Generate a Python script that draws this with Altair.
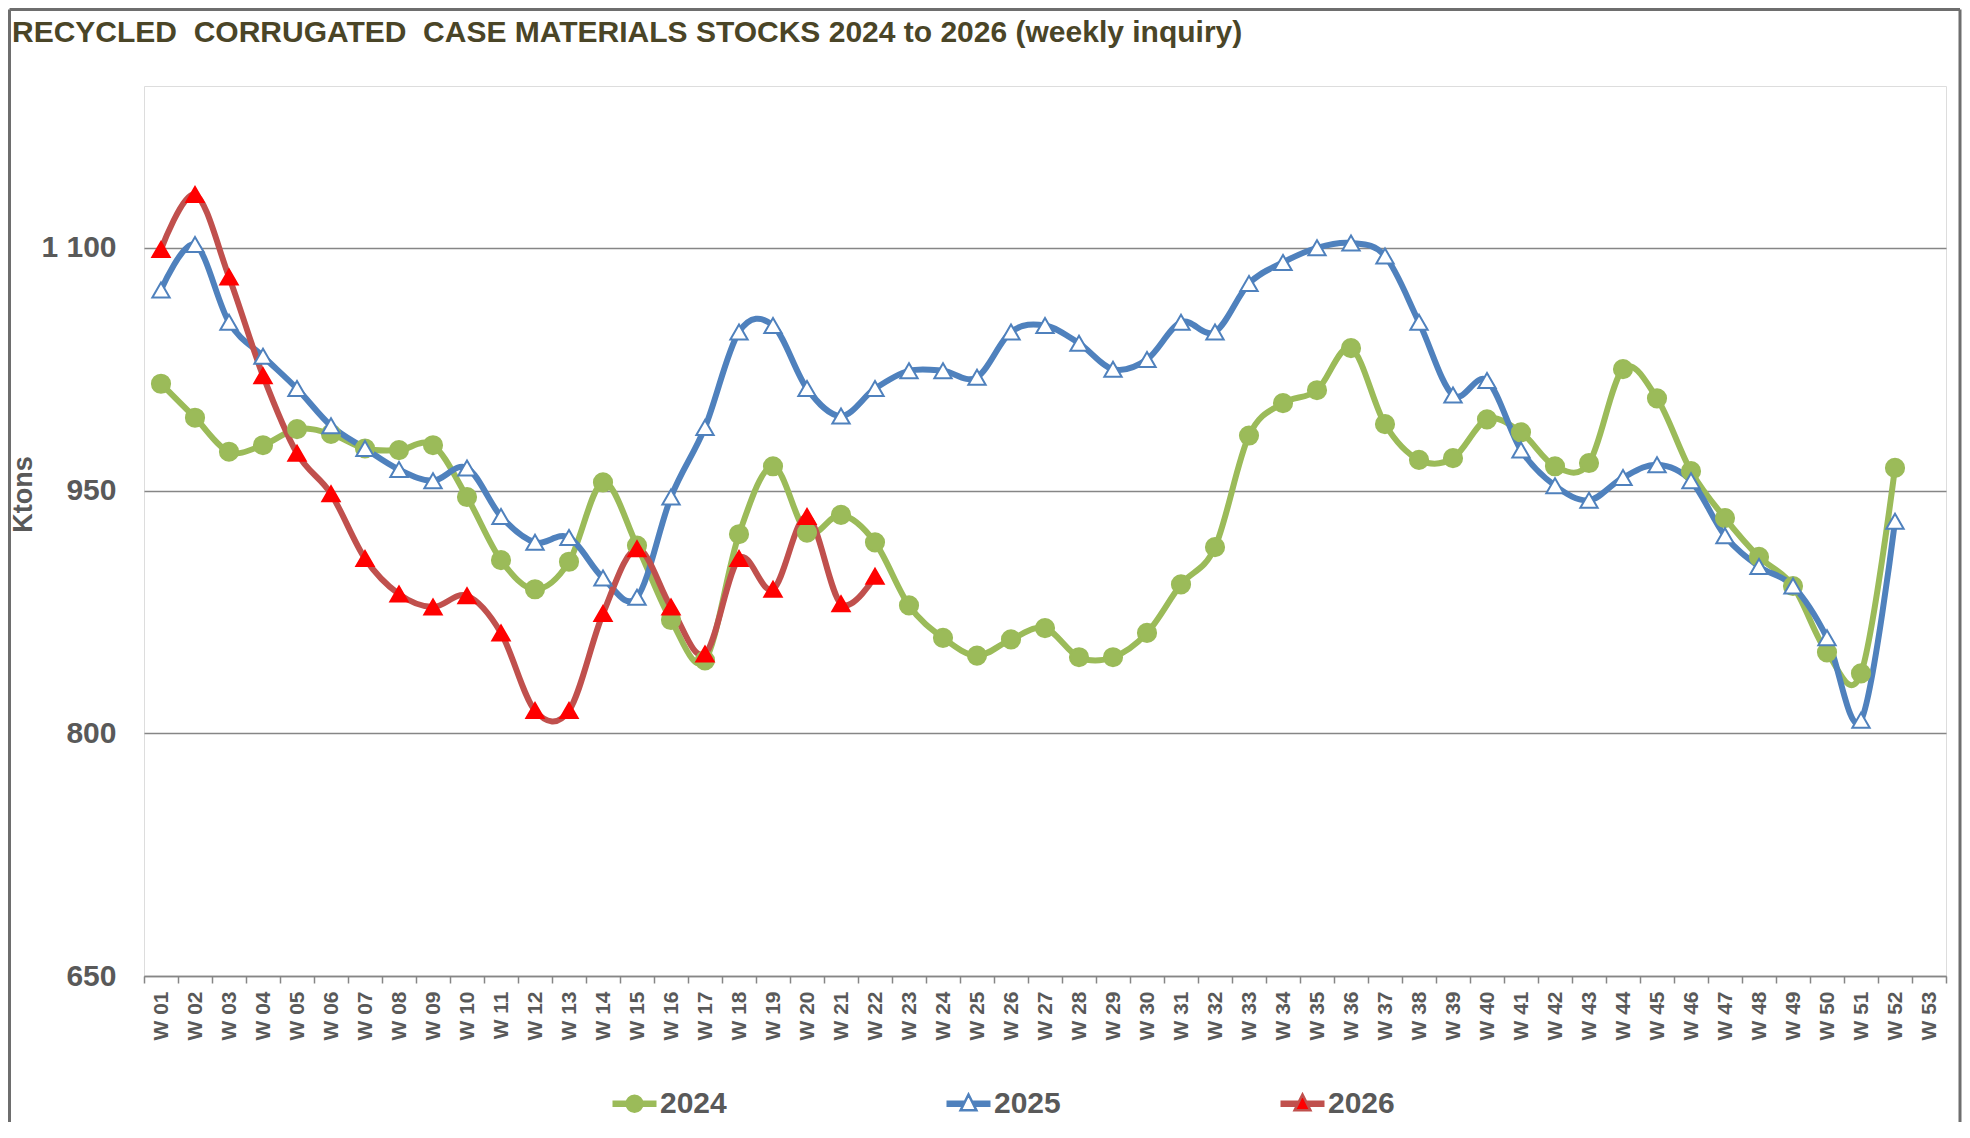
import altair as alt
import pandas as pd

weeks = [f"W {i:02d}" for i in range(1, 54)]
years = ["2024", "2025", "2026"]

v2024 = [1016, 995, 974, 978, 988, 985, 976, 975, 978, 946, 907, 889, 906, 955, 916, 870,
         845, 923, 965, 924, 935, 918, 879, 859, 848, 858, 865, 847, 847, 862, 892, 915,
         984, 1004, 1012, 1038, 991, 969, 970, 994, 986, 965, 967, 1025, 1007, 962, 933,
         909, 891, 850, 837, 964]
v2025 = [1074, 1102, 1054, 1033, 1013, 990, 976, 963, 956, 964, 934, 918, 921, 896, 884, 946,
         989, 1048, 1052, 1013, 996, 1013, 1024, 1024, 1020, 1048, 1052, 1041, 1025, 1031, 1054,
         1048, 1078, 1091, 1100, 1103, 1095, 1054, 1009, 1018, 975, 953, 944, 958, 966, 956,
         922, 903, 891, 859, 808, 931]
v2026 = [1099, 1133, 1082, 1021, 973, 948, 908, 886, 878, 885, 862, 814, 814, 874, 914, 878,
         849, 908, 889, 934, 880, 897]

line_colors = ["#9BBB59", "#4F81BD", "#C0504D"]
marker_fill = ["#9BBB59", "#FFFFFF", "#FF0000"]
marker_stroke = ["#9BBB59", "#4F81BD", "#FF0000"]
marker_shape = ["circle", "triangle-up", "triangle-up"]
marker_size = [330, 300, 300]
legend_fill = ["#9BBB59", "#FFFFFF", "#FF0000"]
NB = "\u00a0"
title_text = f"RECYCLED{NB} CORRUGATED{NB} CASE MATERIALS STOCKS 2024 to 2026 (weekly inquiry)"


def bar(xl_top, xl_mid, xl_bot):
    return (f"M-1,-0.09L{-xl_top},-0.09M{xl_top},-0.09L1,-0.09"
            f"M-1,0L{-xl_mid},0M{xl_mid},0L1,0"
            f"M-1,0.09L{-xl_bot},0.09M{xl_bot},0.09L1,0.09")


circle_path = bar(0.35, 0.36, 0.35) + "M-0.36,0A0.36,0.36,0,1,0,0.36,0A0.36,0.36,0,1,0,-0.36,0Z"
tri_path = bar(0.165, 0.21, 0.255) + "M0,-0.42L0.36,0.3L-0.36,0.3Z"
legend_paths = [circle_path, tri_path, tri_path]

rows = []
for yr, vals in zip(years, [v2024, v2025, v2026]):
    for w, v in zip(weeks, vals):
        rows.append({"week": w, "year": yr, "value": v})
df = pd.DataFrame(rows)

FONT = "Liberation Sans"
GRAY = "#595959"
S = 44
LEG_X, LEG_Y = 467, 994
COLPAD = 214

xscale = alt.Scale(type="band", domain=weeks, paddingInner=0, paddingOuter=0)
x_enc = alt.X(
    "week:N", scale=xscale,
    axis=alt.Axis(
        title=None, labelAngle=270, labelFont=FONT, labelFontSize=21, labelFontWeight="bold",
        labelColor=GRAY, labelPadding=8, tickBand="extent", tickSize=7, tickColor="#868686",
        tickWidth=1.5, domainColor="#868686", domainWidth=1.5, grid=False, labelOverlap=False,
    ),
)
y_enc = alt.Y(
    "value:Q",
    scale=alt.Scale(domain=[650, 1200], nice=False, zero=False),
    axis=alt.Axis(
        values=[650, 800, 950, 1100], title="Ktons", titleFont=FONT, titleFontSize=27,
        titleFontWeight="bold", titleColor=GRAY, titleAngle=270, titleX=-121, titleY=408,
        titleAlign="center", titleBaseline="middle",
        labelFont=FONT, labelFontSize=30, labelFontWeight="bold", labelColor=GRAY,
        labelPadding=28, ticks=False, domain=False, grid=True, gridColor="#868686",
        gridWidth=1.5, labelExpr="replace(format(datum.value, ','), ',', ' ')",
    ),
)

leg = alt.Legend(
    orient="none", direction="horizontal", title=None, legendX=LEG_X, legendY=LEG_Y,
    symbolSize=S * S, symbolStrokeWidth=2.5, columnPadding=COLPAD, padding=0,
    labelFont=FONT, labelFontSize=30, labelFontWeight="bold", labelColor=GRAY,
    labelOffset=2,
)

lines = alt.Chart(df).mark_line(
    interpolate="cardinal", strokeWidth=6, strokeCap="round", strokeJoin="round"
).encode(
    x=x_enc,
    y=y_enc,
    color=alt.Color("year:N", scale=alt.Scale(domain=years, range=line_colors), legend=leg),
)

marker_layers = []
for yr, shp, fc, sc, sz in zip(years, marker_shape, marker_fill, marker_stroke, marker_size):
    marker_layers.append(
        alt.Chart(df).transform_filter(alt.datum.year == yr).mark_point(
            shape=shp, fill=fc, stroke=sc, size=sz, strokeWidth=2, filled=False, opacity=1
        ).encode(x=alt.X("week:N", scale=xscale), y="value:Q")
    )

# legend symbols: shape and fill carried by a layer that draws no marks (empty after filter);
# merged with the line colour legend
legend_layer = alt.Chart(df).transform_filter("datum.value < 0").mark_point(
    filled=True, opacity=1
).encode(
    x=alt.X("week:N", scale=xscale),
    y="value:Q",
    shape=alt.Shape("year:N", scale=alt.Scale(domain=years, range=legend_paths), legend=leg),
    fill=alt.Fill("year:N", scale=alt.Scale(domain=years, range=legend_fill), legend=leg),
)

dummy = pd.DataFrame({"t": [title_text]})
title = alt.Chart(dummy).mark_text(
    align="left", baseline="alphabetic", font=FONT, fontSize=30, fontWeight="bold",
    color="#4A4527",
).encode(text="t:N", x=alt.value(-132), y=alt.value(-44))

BORDER = "#6E6E6E"
b_left = alt.Chart(dummy).mark_rule(color=BORDER, strokeWidth=3).encode(
    x=alt.value(-134.5), y=alt.value(-76.5), y2=alt.value(1060))
b_top = alt.Chart(dummy).mark_rule(color=BORDER, strokeWidth=3).encode(
    x=alt.value(-134.5), x2=alt.value(1816), y=alt.value(-76.5))
b_right = alt.Chart(dummy).mark_rule(color=BORDER, strokeWidth=3).encode(
    x=alt.value(1816), y=alt.value(-76.5), y2=alt.value(1060))

chart = alt.layer(lines, *marker_layers, legend_layer, title, b_left, b_top, b_right).properties(
    width=1802, height=890,
    autosize=alt.AutoSizeParams(type="none"),
    padding={"left": 136, "top": 78, "right": 16, "bottom": 146},
).configure_view(stroke=None).configure(background="white")

chart.save("out.html", embed_options={"renderer": "svg", "actions": False})
